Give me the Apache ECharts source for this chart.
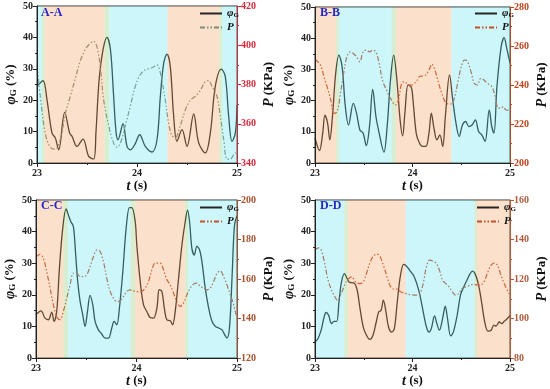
<!DOCTYPE html>
<html><head><meta charset="utf-8">
<script src="https://cdn.jsdelivr.net/npm/echarts@6/dist/echarts.min.js"></script>
<style>html,body{margin:0;padding:0;background:#fff}#c{width:550px;height:389px}</style>
</head><body><div id="c"></div>
<script>
// ---------- data ----------
const panelNames = ['A-A', 'B-B', 'C-C', 'D-D'];
const tMin = 23, tMax = 25;
const phiTicks = [0, 10, 20, 30, 40, 50];
const pRangeA = [340, 420], pRangeB = [200, 280], pRangeC = [120, 200], pRangeD = [80, 160];

const phiA = [[23.0,24.4],[23.06,26.2],[23.10,20.1],[23.15,9.5],[23.183,8.0],[23.217,4.2],[23.277,16.1],[23.327,9.5],[23.35,8.5],[23.40,5.3],[23.46,7.6],[23.517,2.1],[23.567,1.3],[23.59,10],[23.62,26],[23.66,36],[23.70,40],[23.735,36],[23.765,22],[23.79,10],[23.81,7.4],[23.86,12.5],[23.90,5.3],[23.933,4.2],[23.98,6],[24.027,9],[24.083,5.3],[24.15,3.5],[24.20,7.4],[24.233,21],[24.267,31.8],[24.30,34.7],[24.333,30.7],[24.367,14.8],[24.40,6.9],[24.45,10.6],[24.50,5.3],[24.567,15.6],[24.617,6.4],[24.683,3.2],[24.733,9.5],[24.783,24.4],[24.843,29.9],[24.883,27.5],[24.917,14.8],[24.95,6.9],[24.983,9.5],[25.0,18.5]];
const pA = [[23.0,390],[23.033,374],[23.083,355],[23.133,348],[23.183,347],[23.233,352],[23.283,365],[23.333,374],[23.383,383],[23.433,392],[23.483,398],[23.533,401],[23.567,402],[23.60,399],[23.633,389],[23.667,372],[23.717,359],[23.767,350],[23.80,348],[23.833,350],[23.883,359],[23.933,369],[23.983,379],[24.033,385],[24.083,387.5],[24.15,388.5],[24.20,390],[24.233,386],[24.283,372],[24.317,360],[24.35,354],[24.383,353],[24.433,359],[24.483,367],[24.533,372],[24.583,374],[24.633,377],[24.683,381.5],[24.717,382],[24.75,379],[24.80,374],[24.833,364],[24.867,352],[24.90,342],[24.933,342],[24.983,345],[25.0,345]];

const phiB = [[23.0,8],[23.046,4],[23.079,9.6],[23.102,15.3],[23.129,12.8],[23.152,7.4],[23.179,14.9],[23.212,28.7],[23.245,34.6],[23.278,30.9],[23.311,18.1],[23.344,12.2],[23.393,19.1],[23.426,16],[23.46,10.6],[23.493,9.6],[23.526,5.6],[23.559,11.7],[23.592,23.6],[23.625,14.9],[23.658,9.6],[23.707,3.5],[23.74,11.7],[23.774,26.6],[23.807,34.6],[23.84,26.6],[23.873,13.8],[23.899,8.7],[23.922,16],[23.955,25],[23.988,24.3],[24.005,20.2],[24.038,9.6],[24.071,6.4],[24.104,5.3],[24.137,5.3],[24.169,9.6],[24.193,16],[24.22,11.2],[24.25,7.4],[24.28,9],[24.31,5.3],[24.337,14.9],[24.38,28.2],[24.413,20.2],[24.446,12.8],[24.479,8.5],[24.512,12.2],[24.545,13.3],[24.578,11.7],[24.611,12.2],[24.645,13.8],[24.678,10.1],[24.711,9],[24.744,6.9],[24.787,17],[24.813,11.7],[24.836,9.6],[24.866,24.5],[24.909,37.2],[24.94,40.2],[24.965,37],[25.0,32]];
const pB = [[23.0,253.1],[23.03,251.9],[23.063,249.4],[23.096,243.4],[23.129,238.3],[23.162,232.3],[23.195,225.5],[23.228,226.4],[23.261,235.7],[23.294,246],[23.327,254.5],[23.36,257],[23.393,256.2],[23.426,254.5],[23.46,251.9],[23.493,257],[23.526,257.9],[23.559,257],[23.592,257.9],[23.625,257],[23.658,251],[23.691,242.6],[23.74,236.6],[23.774,233.2],[23.823,229.8],[23.856,232.3],[23.889,240.9],[23.922,241.7],[23.955,240],[23.988,240],[24.038,241.7],[24.071,244.3],[24.104,244.6],[24.137,245.1],[24.169,247.7],[24.2,250.7],[24.235,246.8],[24.268,240.9],[24.3,235.7],[24.334,231.5],[24.368,230.3],[24.4,230.3],[24.433,234],[24.466,241.7],[24.5,249.4],[24.533,252.8],[24.56,252.4],[24.6,246.8],[24.633,240.9],[24.666,240],[24.7,243.4],[24.733,242.6],[24.765,240.9],[24.815,239.1],[24.848,234],[24.88,228.1],[24.91,228.1],[24.93,228.9],[24.96,227.2],[25.0,227]];

const phiC = [[23.0,13.7],[23.05,14.9],[23.09,12.6],[23.123,12.1],[23.156,14.5],[23.18,11.6],[23.206,14.7],[23.233,28.4],[23.266,41],[23.3,47.2],[23.322,45.3],[23.346,43.2],[23.372,41.6],[23.395,32.6],[23.415,24.2],[23.439,17.9],[23.465,13.7],[23.488,10],[23.512,14.7],[23.538,19.8],[23.565,16.8],[23.588,11.6],[23.621,8.9],[23.654,7.6],[23.688,6.3],[23.721,6.3],[23.754,9.5],[23.777,11.6],[23.804,10.5],[23.83,15.8],[23.864,27.4],[23.897,41],[23.93,47.6],[23.953,47.6],[23.987,43.2],[24.003,35.8],[24.037,24.2],[24.07,16.8],[24.103,14.7],[24.136,12.8],[24.169,12.6],[24.203,15.8],[24.226,21.6],[24.252,21.1],[24.279,15.3],[24.302,12.1],[24.336,11.8],[24.359,10.5],[24.385,14.7],[24.419,25.3],[24.452,35.8],[24.485,43.2],[24.508,46.8],[24.528,43.2],[24.551,34.7],[24.575,32.6],[24.601,35.3],[24.628,34.2],[24.651,30.5],[24.684,22.1],[24.718,15.8],[24.751,11.6],[24.784,10],[24.817,9.5],[24.851,8.9],[24.877,7.4],[24.9,6.3],[24.925,9.5],[24.95,25],[24.975,42],[25.0,45]];
const pC = [[23.0,171.3],[23.04,172.5],[23.073,170.5],[23.106,163.8],[23.14,155.4],[23.173,146.9],[23.206,141],[23.239,139.4],[23.272,143.6],[23.306,150.3],[23.339,157],[23.372,162.9],[23.405,162.9],[23.439,161.2],[23.472,161.2],[23.505,162.1],[23.538,166.3],[23.571,171.3],[23.605,174.7],[23.638,173.9],[23.671,168.8],[23.704,160.4],[23.738,153.7],[23.771,150.3],[23.804,148.6],[23.837,149],[23.87,151.1],[23.904,153.7],[23.937,154.5],[23.97,154],[24.02,153.5],[24.053,153.7],[24.086,155.4],[24.12,158.7],[24.153,164.6],[24.186,168],[24.236,168],[24.269,164.6],[24.302,159.6],[24.336,157],[24.369,152.8],[24.402,148.6],[24.435,146.1],[24.468,147.8],[24.502,152],[24.535,155.4],[24.568,157.4],[24.601,157.9],[24.635,156.2],[24.668,155.4],[24.701,154.5],[24.734,155.4],[24.767,158.7],[24.801,162.9],[24.834,164.1],[24.867,161.2],[24.9,157],[24.934,152],[24.957,148.6],[24.983,143.6],[25.0,140.2]];

const phiD = [[23.0,5.1],[23.03,6.1],[23.063,8.8],[23.09,12.5],[23.113,14.4],[23.14,13.5],[23.169,10.9],[23.196,11.6],[23.223,11.6],[23.246,17.8],[23.272,24.1],[23.302,26.7],[23.329,25.2],[23.355,23.9],[23.395,23.8],[23.429,22],[23.462,15.6],[23.495,9.8],[23.528,7.2],[23.561,5.9],[23.595,7.2],[23.628,11.4],[23.654,14.6],[23.678,15.1],[23.701,18.3],[23.728,14.6],[23.754,9.8],[23.787,8.2],[23.814,9.3],[23.844,17.8],[23.877,26.2],[23.91,29.6],[23.944,28.9],[23.977,27.5],[24.01,26.2],[24.043,23.6],[24.076,19.9],[24.11,14.6],[24.143,9.8],[24.169,8.2],[24.193,9.3],[24.226,13.3],[24.25,10.9],[24.276,8.8],[24.309,12.5],[24.336,16.4],[24.359,12.5],[24.392,7],[24.419,8.2],[24.458,13.5],[24.492,19.9],[24.525,22.5],[24.558,24.6],[24.591,26.7],[24.615,27.5],[24.641,26.7],[24.674,23.6],[24.708,17.8],[24.741,11.4],[24.774,8.5],[24.807,8.8],[24.834,10.4],[24.857,10.1],[24.89,11.4],[24.917,10.9],[24.94,11.6],[24.973,12.5],[25.0,13.5]];
const pD = [[23.0,134.7],[23.036,135.8],[23.063,134.7],[23.096,128.7],[23.13,120.3],[23.163,115.2],[23.196,111.8],[23.229,109.3],[23.262,111.8],[23.296,116],[23.329,119.4],[23.379,121.1],[23.412,118.6],[23.462,117.7],[23.495,118.6],[23.528,122.8],[23.561,127.9],[23.595,131.3],[23.635,132.6],[23.668,131.3],[23.701,127],[23.744,120.3],[23.777,116],[23.811,114.9],[23.844,114.9],[23.877,113.5],[23.927,112.7],[23.977,112.1],[24.043,111.8],[24.076,112.7],[24.11,117.7],[24.143,126.2],[24.176,129.6],[24.209,129.1],[24.243,127.9],[24.276,124.5],[24.309,119.4],[24.342,117.7],[24.375,116],[24.409,113.5],[24.442,111.8],[24.475,112.7],[24.508,115.2],[24.542,116],[24.575,116.5],[24.608,117.2],[24.641,117.2],[24.674,116.9],[24.708,117.2],[24.741,119.4],[24.774,123.7],[24.807,127],[24.841,128.2],[24.874,126.7],[24.907,122],[24.94,117.7],[24.973,114.3],[25.0,111.8]];

// shaded flow-regime bands: [start t, end t, kind]  kind 0 = orange, 1 = cyan, 2 = transition (green)
const bandsA = [[23.00,23.05,1],[23.05,23.075,2],[23.075,23.675,0],[23.675,23.725,2],[23.725,24.305,1],[24.305,24.825,0],[24.825,24.855,2],[24.855,25.0,1]];
const bandsB = [[23.00,23.215,0],[23.215,23.25,2],[23.25,23.785,1],[23.785,23.83,2],[23.83,24.40,0],[24.40,25.0,1]];
const bandsC = [[23.00,23.275,0],[23.275,23.32,2],[23.32,23.94,1],[23.94,23.985,2],[23.985,24.485,0],[24.485,24.515,2],[24.515,25.0,1]];
const bandsD = [[23.00,23.30,1],[23.30,23.335,2],[23.335,23.93,0],[23.93,24.635,1],[24.635,24.66,2],[24.66,25.0,0]];

// ---------- layout / style ----------
const SERIF = '"Liberation Serif","Times New Roman",serif';
const bandColors = ['rgba(242,152,85,0.3)', 'rgba(88,225,238,0.3)', 'rgba(125,200,110,0.3)'];
const panels = [
  {grid:{left:37, top:6, width:200, height:157}, p:pRangeA, phi:phiA, P:pA, bands:bandsA, pColor:'#7f8a72', axColor:'#d8283c', legend:{left:199, top:8}, label:{left:41, top:7}},
  {grid:{left:315, top:7, width:202, height:156}, p:pRangeB, phi:phiB, P:pB, bands:bandsB, pColor:'#c2502a', axColor:'#c0441c', legend:{left:474, top:8}, label:{left:320, top:7}},
  {grid:{left:36, top:200, width:201, height:158}, p:pRangeC, phi:phiC, P:pC, bands:bandsC, pColor:'#c2502a', axColor:'#a8502c', legend:{left:199, top:202}, label:{left:41, top:200}},
  {grid:{left:315, top:200, width:201, height:158}, p:pRangeD, phi:phiD, P:pD, bands:bandsD, pColor:'#c2502a', axColor:'#b05a3a', legend:{left:476, top:202}, label:{left:320, top:200}}
];

const tickFont = {fontFamily:SERIF, fontWeight:'bold', fontSize:10};
const nameStyle = (color) => ({
  fontFamily:SERIF, fontWeight:'bold', fontSize:13, color:color,
  rich:{
    i:{fontFamily:SERIF, fontWeight:'bold', fontStyle:'italic', fontSize:14, color:color},
    s:{fontFamily:SERIF, fontWeight:'bold', fontSize:9, color:color, verticalAlign:'bottom', padding:[5,0,0,0]}
  }
});

function bandRender(params, api) {
  const cs = params.coordSys;
  const x0 = api.coord([api.value(0), 0])[0];
  const x1 = api.coord([api.value(1), 0])[0];
  return {type:'rect', shape:{x:x0, y:cs.y, width:x1 - x0, height:cs.height},
          style:{fill: bandColors[api.value(2)]}};
}

const option = {
  animation:false,
  backgroundColor:'#fff',
  grid:[], xAxis:[], yAxis:[], series:[], legend:[], title:[]
};

panels.forEach((pn, i) => {
  option.grid.push(Object.assign({show:true, borderColor:'#333', borderWidth:1, backgroundColor:'transparent'}, pn.grid));
  option.xAxis.push({
    type:'value', gridIndex:i, min:tMin, max:tMax, interval:1, z:5,
    name:'{i|t} (s)', nameLocation:'middle', nameGap:14, nameTextStyle:nameStyle('#111'),
    axisLine:{lineStyle:{color:'#222', width:1}},
    axisTick:{length:4, lineStyle:{color:'#222'}},
    minorTick:{show:true, splitNumber:2, length:2, lineStyle:{color:'#222'}},
    axisLabel:Object.assign({color:'#222', margin:5}, tickFont),
    splitLine:{show:false}
  });
  option.yAxis.push({
    type:'value', gridIndex:i, min:phiTicks[0], max:phiTicks[phiTicks.length-1], interval:10, position:'left', z:5,
    name:'{i|φ}{s|G} (%)', nameLocation:'middle', nameGap:19, nameTextStyle:nameStyle('#111'),
    axisLine:{show:true, lineStyle:{color:'#222', width:1}},
    axisTick:{show:true, length:4, lineStyle:{color:'#222'}},
    minorTick:{show:true, splitNumber:2, length:2, lineStyle:{color:'#222'}},
    axisLabel:Object.assign({color:'#222', margin:4}, tickFont),
    splitLine:{show:false}
  });
  option.yAxis.push({
    type:'value', gridIndex:i, min:pn.p[0], max:pn.p[1], interval:20, position:'right', z:5,
    name:'{i|P} (KPa)', nameLocation:'middle', nameGap:25, nameTextStyle:nameStyle('#111'),
    axisLine:{show:true, lineStyle:{color:pn.axColor, width:1}},
    axisTick:{show:true, length:4, lineStyle:{color:pn.axColor}},
    minorTick:{show:true, splitNumber:2, length:2, lineStyle:{color:pn.axColor}},
    axisLabel:Object.assign({color:pn.axColor, margin:4}, tickFont),
    splitLine:{show:false}
  });
  const phiName = 'phi' + i, pName = 'P' + i;
  option.series.push({
    type:'line', name:phiName, xAxisIndex:i, yAxisIndex:2*i, data:pn.phi,
    symbol:'none', smooth:0.35, z:2,
    lineStyle:{color:'#262626', width:1.3}, itemStyle:{color:'#262626'}
  });
  option.series.push({
    type:'line', name:pName, xAxisIndex:i, yAxisIndex:2*i+1, data:pn.P,
    symbol:'none', smooth:0.35, z:2,
    lineStyle:{color:pn.pColor, width:1.2, type:[5,2,1.5,2,1.5,2]}, itemStyle:{color:pn.pColor}
  });
  option.series.push({
    type:'custom', name:'bands' + i, xAxisIndex:i, yAxisIndex:2*i, data:pn.bands,
    renderItem:bandRender, silent:true, z:3, encode:{x:[0,1]}
  });
  option.legend.push({
    data:[phiName, pName], orient:'vertical', left:pn.legend.left, top:pn.legend.top,
    itemWidth:22, itemHeight:8, itemGap:3, padding:0, z:6,
    itemStyle:{opacity:0, borderWidth:0},
    formatter:(n) => n.startsWith('phi') ? '{i|φ}{s|G}' : '{i|P}',
    textStyle:{fontFamily:SERIF, fontSize:11, color:'#111',
      rich:{i:{fontFamily:SERIF, fontStyle:'italic', fontWeight:'bold', fontSize:11, color:'#111'},
            s:{fontFamily:SERIF, fontWeight:'bold', fontSize:7, color:'#111', verticalAlign:'bottom', padding:[4,0,0,0]}}}
  });
  option.title.push({
    text:panelNames[i], left:pn.label.left, top:pn.label.top, padding:0, z:6,
    textStyle:{fontFamily:SERIF, fontWeight:'bold', fontSize:12, color:'#2626c4'}
  });
});

const chart = echarts.init(document.getElementById('c'), null, {renderer:'canvas'});
chart.setOption(option);
</script>
</body></html>
